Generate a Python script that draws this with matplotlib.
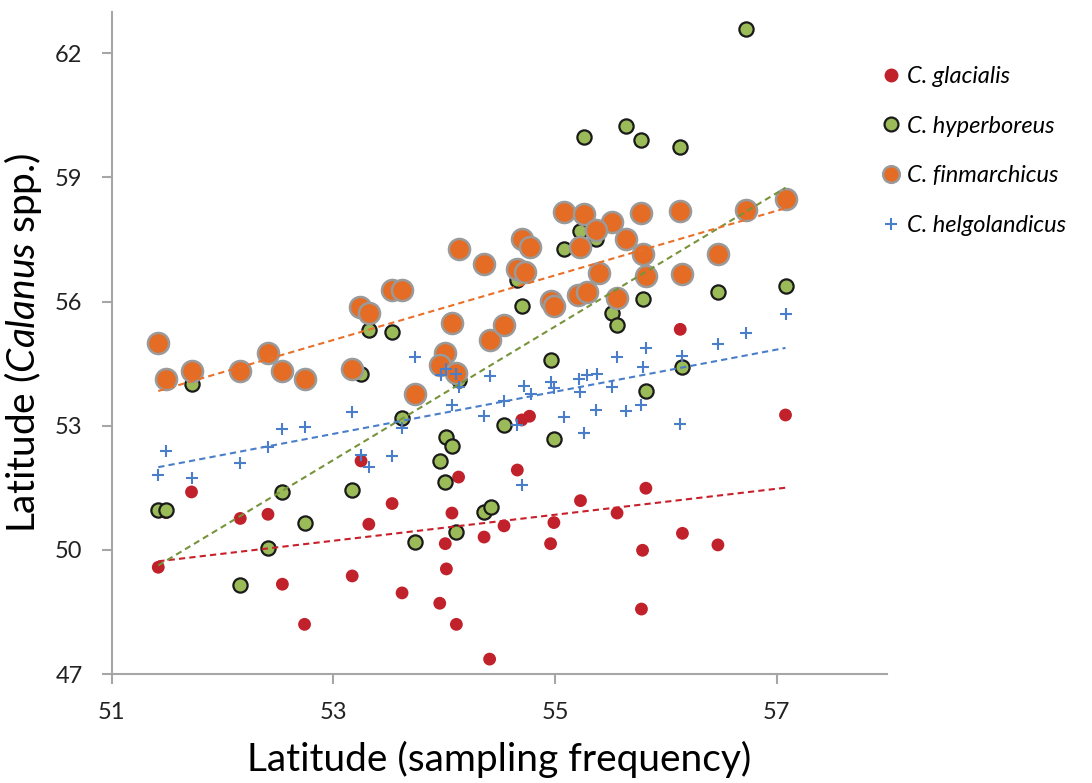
import numpy as np
import matplotlib
matplotlib.use('Agg')
import matplotlib.pyplot as plt
from matplotlib.lines import Line2D

# C. glacialis
glac_x = [51.42, 51.49, 51.72, 52.16, 52.41, 52.54, 52.74, 53.17, 53.25, 53.32,
          53.53, 53.62, 53.96, 54.01, 54.02, 54.07, 54.11, 54.13, 54.36, 54.41,
          54.54, 54.66, 54.70, 54.77, 54.96, 54.99, 55.23, 55.56, 55.79, 55.78,
          55.82, 56.13, 56.15, 56.47, 57.08]
glac_y = [49.58, 50.90, 51.40, 50.76, 50.86, 49.17, 48.20, 49.37, 52.15, 50.62,
          51.12, 48.96, 48.71, 50.15, 49.54, 50.89, 48.20, 51.76, 50.31, 47.36,
          50.58, 51.93, 53.14, 53.23, 50.15, 50.66, 51.19, 50.89, 49.99, 48.57,
          51.49, 55.33, 50.40, 50.12, 53.26]

# C. hyperboreus
hyp_x = [53.32, 53.53, 56.72, 55.26, 55.64, 55.78, 56.13, 55.23, 55.37, 54.77,
         55.08, 54.66, 54.70, 55.79, 56.47, 57.08, 55.51, 55.56, 51.72, 53.25,
         54.13, 53.62, 54.02, 54.07, 53.96, 54.01, 52.54, 53.17, 51.42, 51.49,
         52.74, 52.41, 53.74, 54.11, 54.36, 54.42, 52.16, 54.54, 54.96, 54.99,
         55.82, 56.15]
hyp_y = [55.31, 55.26, 62.60, 59.99, 60.24, 59.91, 59.73, 57.70, 57.51, 57.24,
         57.28, 56.53, 55.90, 56.07, 56.24, 56.37, 55.73, 55.43, 54.02, 54.26,
         54.10, 53.19, 52.73, 52.51, 52.16, 51.65, 51.39, 51.44, 50.96, 50.96,
         50.66, 50.05, 50.20, 50.44, 50.92, 51.04, 49.15, 53.01, 54.60, 52.67,
         53.85, 54.42]

# C. finmarchicus
fin_x = [54.13, 54.36, 53.53, 53.62, 53.24, 53.32, 54.07, 51.42, 54.41, 54.54,
         57.08, 56.72, 56.13, 55.78, 55.08, 55.26, 55.51, 55.37, 55.64, 55.23,
         54.70, 54.77, 55.79, 56.47, 54.66, 54.73, 55.40, 55.82, 56.15, 54.96,
         54.99, 55.21, 55.29, 55.56, 51.49, 51.72, 52.16, 52.41, 52.54, 52.74,
         53.17, 53.74, 54.01, 53.96, 54.11]
fin_y = [57.26, 56.92, 56.29, 56.29, 55.86, 55.73, 55.48, 55.01, 55.07, 55.43,
         58.49, 58.21, 58.19, 58.13, 58.16, 58.12, 57.93, 57.74, 57.52, 57.32,
         57.52, 57.32, 57.14, 57.14, 56.80, 56.72, 56.68, 56.62, 56.66, 56.02,
         55.89, 56.15, 56.24, 56.09, 54.14, 54.33, 54.33, 54.75, 54.33, 54.14,
         54.37, 53.76, 54.76, 54.46, 54.28]

# C. helgolandicus
helg_x = [51.42, 51.49, 51.72, 52.16, 52.41, 52.54, 52.74, 53.17, 53.25, 53.32,
          53.53, 53.62, 53.74, 53.97, 54.02, 54.11, 54.13, 54.07, 54.36, 54.41,
          54.54, 54.66, 54.70, 54.72, 54.78, 54.96, 54.99, 55.08, 55.22, 55.23,
          55.29, 55.38, 55.26, 55.37, 55.51, 55.56, 55.64, 55.79, 55.78, 55.82,
          56.13, 56.15, 56.47, 56.72, 57.08]
helg_y = [51.82, 52.39, 51.74, 52.11, 52.48, 52.91, 52.97, 53.34, 52.30, 52.01,
          52.28, 52.95, 54.66, 54.22, 54.36, 54.26, 53.94, 53.50, 53.23, 54.21,
          53.61, 53.03, 51.57, 53.96, 53.76, 54.05, 53.92, 53.20, 54.14, 53.82,
          54.22, 54.24, 52.83, 53.39, 53.93, 54.66, 53.35, 54.42, 53.51, 54.87,
          53.04, 54.68, 54.97, 55.24, 55.69]

labels = ['C. glacialis', 'C. hyperboreus', 'C. finmarchicus', 'C. helgolandicus']

red = '#C0212B'
green = '#9BBB59'
orange = '#E46C24'
blue = '#4A7EC8'

plt.rcParams['font.family'] = ['Lato', 'DejaVu Sans']
plt.rcParams['mathtext.fontset'] = 'custom'
plt.rcParams['mathtext.rm'] = 'Lato'
plt.rcParams['mathtext.it'] = 'Lato:italic'

fig = plt.figure(figsize=(10.92, 7.83), dpi=100)
ax = fig.add_axes([0.1023, 0.1392, 0.7104, 0.8455])

ax.scatter(glac_x, glac_y, s=85, color=red, edgecolors='none', zorder=3)
ax.scatter(hyp_x, hyp_y, s=105, color=green, edgecolors='#1a1a1a', linewidths=1.6, zorder=4)
ax.scatter(fin_x, fin_y, s=230, color=orange, edgecolors='#9a9a9a', linewidths=1.8, zorder=5)
ax.scatter(helg_x, helg_y, s=70, marker='+', color=blue, linewidths=1.5, zorder=6)

# linear trend lines
for xs, ys, c in [(glac_x, glac_y, '#C8202A'), (hyp_x, hyp_y, '#77933C'),
                  (fin_x, fin_y, '#E8702A'), (helg_x, helg_y, '#4A7EC8')]:
    k, b = np.polyfit(xs, ys, 1)
    xx = np.array([min(xs), max(xs)])
    ax.plot(xx, k * xx + b, '--', color=c, lw=1.5, dashes=(3, 2), zorder=7)

ax.set_xlim(51, 58)
ax.set_ylim(47, 63)
ax.set_xticks([51, 53, 55, 57])
ax.set_yticks([47, 50, 53, 56, 59, 62])
for s in ['top', 'right']:
    ax.spines[s].set_visible(False)
for s in ['left', 'bottom']:
    ax.spines[s].set_color('#A6A6A6')
    ax.spines[s].set_linewidth(1.5)
ax.tick_params(colors='#A6A6A6', width=1.5, length=7, labelsize=17, labelcolor='#222222')
ax.tick_params(axis='x', pad=13)
ax.tick_params(axis='y', pad=14)

ax.set_xlabel('Latitude (sampling frequency)', fontsize=28, labelpad=13)
ax.set_ylabel(r'Latitude ($\mathit{Calanus}$ spp.)', fontsize=28, labelpad=8)

handles = [
    Line2D([], [], ls='', marker='o', ms=9, mfc=red, mec=red),
    Line2D([], [], ls='', marker='o', ms=10, mfc=green, mec='#1a1a1a', mew=1.6),
    Line2D([], [], ls='', marker='o', ms=12, mfc=orange, mec='#9a9a9a', mew=1.8),
    Line2D([], [], ls='', marker='+', ms=9, color=blue, mew=1.5),
]
fig.legend(handles, labels, loc='upper left', bbox_to_anchor=(0.782, 0.943), frameon=False,
           prop={'style': 'italic', 'size': 17}, labelspacing=1.22, handletextpad=0.05,
           handlelength=1.3)

fig.savefig('out.png', dpi=100)
